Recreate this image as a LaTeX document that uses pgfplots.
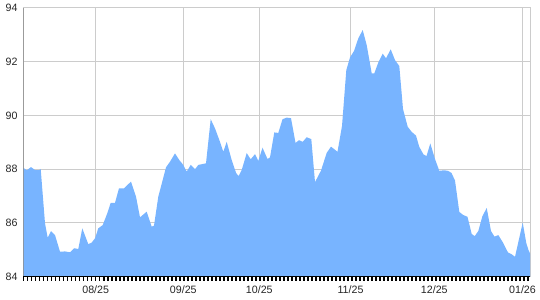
\documentclass[border=0pt]{standalone}
\usepackage{pgfplots}
\pgfplotsset{compat=1.18}
\usepackage{pgfplotstable}
\usepackage{fontspec}
\setmainfont{Liberation Sans}
\definecolor{areablue}{RGB}{120,180,255}
\definecolor{gridgray}{RGB}{204,204,204}
\definecolor{axisgray}{RGB}{130,130,130}
\pgfplotstableread{
x v
23.5 88.05
26.7 87.96
31 88.08
35 87.97
39.3 87.97
40.7 88.01
45 85.99
47.7 85.45
51 85.70
55 85.55
60 84.93
65 84.94
70 84.91
74.3 85.06
78.3 85.03
82.3 85.80
88.3 85.21
91.7 85.27
95 85.43
98.3 85.80
102.7 85.92
107.3 86.36
110.7 86.75
115 86.75
119 87.29
124 87.29
131 87.54
136 86.98
140 86.21
146.7 86.42
151.7 85.86
154 85.90
158.3 86.98
162.7 87.60
166 88.07
170 88.28
175 88.59
179.3 88.34
183.3 88.16
186.7 87.91
190.7 88.16
195 88.00
198.3 88.16
206 88.22
210.7 89.86
215 89.52
219.3 89.09
223.3 88.65
226.7 89.02
231.7 88.34
236 87.87
238.5 87.74
241.7 87.97
246.7 88.60
250.7 88.37
255 88.56
258.3 88.31
262.5 88.80
267.5 88.38
270 88.44
274.3 89.37
278.3 89.35
282.5 89.86
286.7 89.92
291 89.90
295.5 88.98
299 89.08
302.7 89.02
306.7 89.19
311.3 89.12
315 87.52
321 87.95
326.7 88.61
331 88.84
337.5 88.65
342 89.61
346.3 91.69
350 92.16
354 92.40
358.3 92.87
362.7 93.18
366.7 92.62
371.7 91.57
374.3 91.57
378.3 91.97
382.7 92.30
386 92.13
390.7 92.46
395 92.06
399.3 91.84
403 90.24
407.7 89.58
411.7 89.39
416 89.25
419.3 88.83
423.5 88.55
426.5 88.49
430.3 88.96
435 88.38
439.3 87.94
444 87.96
448 87.94
451.5 87.86
455 87.58
459.3 86.41
463 86.30
467.5 86.23
471.7 85.59
474.7 85.51
478.3 85.70
482.3 86.24
486.7 86.56
491 85.70
494.5 85.49
498.3 85.55
503 85.27
508 84.90
511.5 84.84
515 84.74
519 85.40
522.7 86.01
526.3 85.25
528.5 84.99
530 84.87
}\datatable
\begin{document}
\begin{tikzpicture}
\begin{axis}[
  at={(0pt,0pt)}, anchor=south west,
  scale only axis,
  width=379.875pt, height=201.525pt,
  xmin=23.5, xmax=530, ymin=84, ymax=94,
  xtick={95.7,183.3,259.3,350.5,434.3,522.5},
  xticklabels={08/25,09/25,10/25,11/25,12/25,01/26},
  ytick={84,86,88,90,92,94},
  major tick length=0pt,
  xtick pos=bottom,
  ytick pos=left,
  grid=major,
  major grid style={gridgray, line width=0.75pt},
  axis line style={gridgray, line width=0.75pt},
  tick label style={font=\fontsize{8}{9}\selectfont, black!85},
  /pgf/number format/assume math mode=true,
  yticklabel style={xshift=-1pt},
  xticklabel style={yshift=-3pt},
]
\addplot[fill=areablue, draw=none] table[x=x, y=v] {\datatable} \closedcycle;
\draw[axisgray, line width=0.75pt] (rel axis cs:0,0) -- (rel axis cs:0,1);
\end{axis}
\draw[black, line width=0.8pt] (0pt,0pt) -- (379.875pt,0pt);
\foreach \i in {0,...,126} {
  \draw[black, line width=0.9pt] (\i*3pt+0.3pt,0pt) -- (\i*3pt+0.3pt,-3pt);
}
\pgfresetboundingbox
\path[use as bounding box] (-17.625pt,-17.475pt) rectangle (387.375pt,207.525pt);
\end{tikzpicture}
\end{document}
